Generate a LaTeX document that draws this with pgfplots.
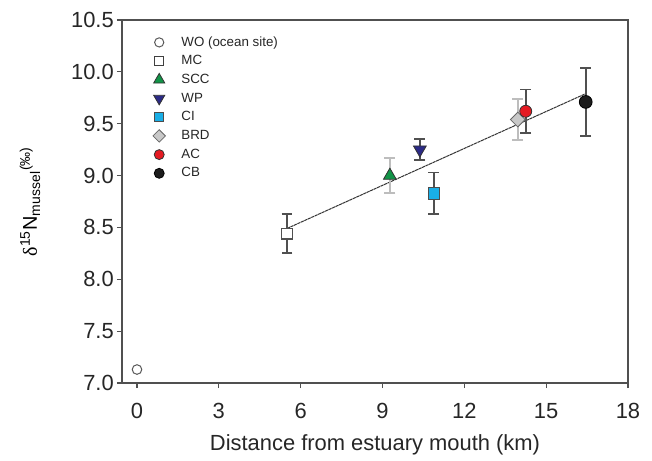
\documentclass[border=0pt]{standalone}
\usepackage{fontspec}
\setmainfont{Liberation Sans}
\newfontfamily\greekserif{Liberation Serif}
\usepackage{pgfplots}
\pgfplotsset{compat=1.18}

\definecolor{axisgray}{HTML}{505050}
\definecolor{barlight}{HTML}{BDBDBD}
\definecolor{sccgreen}{HTML}{119447}
\definecolor{wpnavy}{HTML}{2B2A86}
\definecolor{ciblue}{HTML}{19AEE6}
\definecolor{brdgray}{HTML}{C8C8C8}
\definecolor{acred}{HTML}{E51A22}
\definecolor{cbblack}{HTML}{1C1C1C}

\pgfplotsset{
  % one sampling site: a single mean with a +/- 1 SD bar
  site/.style={
    forget plot, only marks, mark size=3bp,
    /pgfplots/error bars/y dir=both,
    /pgfplots/error bars/y explicit,
    /pgfplots/error bars/error bar style={#1, line width=0.9bp},
    /pgfplots/error bars/error mark options={rotate=90, mark size=2.7bp, #1, line width=0.9bp},
  },
  % legend key: the bare marker, no line stub
  dotkey/.style={legend image code/.code={\draw[##1] plot coordinates {(0bp,0bp)};}},
}

\begin{document}
\begin{tikzpicture}
\path[use as bounding box] (-61bp,-39bp) rectangle (265bp,191.5bp);
\begin{axis}[
  at={(0,0)}, anchor=south west,
  scale only axis,
  width=253bp, height=181.5bp,
  xmin=-0.55, xmax=18, ymin=7, ymax=10.5,
  xtick={0,3,...,18},
  ytick={7,7.5,...,10.5},
  yticklabel style={xshift=2bp, /pgf/number format/.cd, fixed, fixed zerofill, precision=1},
  /pgf/number format/assume math mode=true,
  tick align=outside, tick pos=left,
  major tick length=2.6bp,
  axis line style={axisgray, line width=0.6bp},
  tick style={axisgray, line width=0.6bp},
  ticklabel style={font=\fontsize{11}{13}\selectfont, text=black!85},
  xticklabel style={yshift=-4bp},
  label style={font=\fontsize{11}{13}\selectfont, text=black!85},
  xlabel={Distance from estuary mouth (km)},
  xlabel style={yshift=-1bp},
  ylabel={{\greekserif δ}\textsuperscript{15}N\textsubscript{mussel}\textsuperscript{(‰)}},
  every axis y label/.style={at={(axis description cs:0,0.5)}, xshift=-42.5bp,
    rotate=90, anchor=base},
  legend style={draw=none, fill=none, at={(axis description cs:0,1)}, anchor=north west,
    xshift=15.5bp, yshift=-7.5bp, inner sep=0pt, outer sep=0pt,
    font=\fontsize{6.7}{8}\selectfont, text=black!85, row sep=1.95bp, column sep=7.5bp,
    nodes={inner xsep=0.5bp, inner ysep=0.5bp, text height=5bp, text depth=1.4bp}},
  legend cell align=left,
]
% least-squares fit through the estuary sites
\addplot[forget plot, black!80, line width=0.5bp, dash pattern=on 1.6bp off 0.3bp]
  coordinates {(5.5,8.49) (16.45,9.79)};

% WO, ocean site
\addplot[forget plot, only marks, mark=o, mark size=2.4bp, mark options={draw=black!65, line width=0.5bp}]
  coordinates {(0,7.13)};
% MC
\addplot[site=axisgray, mark=square*, mark size=2.7bp, mark options={draw=axisgray, fill=white, line width=0.6bp}]
  coordinates {(5.5,8.44) +- (0,0.19)};
% SCC
\addplot[site=barlight, mark=triangle*, mark size=3.7bp, mark options={draw=black!80, fill=sccgreen, line width=0.4bp}]
  coordinates {(9.27,9.00) +- (0,0.17)};
% WP
\addplot[site=axisgray, mark=triangle*, mark size=3.7bp, mark options={rotate=180, draw=black!80, fill=wpnavy, line width=0.4bp}]
  coordinates {(10.37,9.25) +- (0,0.10)};
% CI
\addplot[site=axisgray, mark=square*, mark size=2.9bp, mark options={draw=black!70, fill=ciblue, line width=0.4bp}]
  coordinates {(10.88,8.83) +- (0,0.20)};
% BRD
\addplot[site=barlight, mark=square*, mark size=2.6bp, mark options={rotate=45, draw=black!60, fill=brdgray, line width=0.4bp}]
  coordinates {(13.96,9.54) +- (0,0.20)};
% AC
\addplot[site=axisgray, mark=*, mark size=3bp, mark options={draw=black!80, fill=acred, line width=0.4bp}]
  coordinates {(14.25,9.62) +- (0,0.21)};
% CB
\addplot[site=axisgray, mark=*, mark size=3.2bp, mark options={draw=black, fill=cbblack, line width=0.4bp}]
  coordinates {(16.45,9.71) +- (0,0.33)};

% legend keys
\addlegendimage{dotkey, only marks, mark=o, mark size=2.3bp, mark options={draw=black!65, line width=0.5bp}}
\addlegendimage{dotkey, only marks, mark=square*, mark size=2.3bp, mark options={draw=black!75, fill=white, line width=0.5bp}}
\addlegendimage{dotkey, only marks, mark=triangle*, mark size=3.2bp, mark options={draw=black!80, fill=sccgreen, line width=0.4bp}}
\addlegendimage{dotkey, only marks, mark=triangle*, mark size=3.2bp, mark options={rotate=180, draw=black!80, fill=wpnavy, line width=0.4bp}}
\addlegendimage{dotkey, only marks, mark=square*, mark size=2.3bp, mark options={draw=black!70, fill=ciblue, line width=0.4bp}}
\addlegendimage{dotkey, only marks, mark=square*, mark size=2.2bp, mark options={rotate=45, draw=black!60, fill=brdgray, line width=0.4bp}}
\addlegendimage{dotkey, only marks, mark=*, mark size=2.5bp, mark options={draw=black!80, fill=acred, line width=0.4bp}}
\addlegendimage{dotkey, only marks, mark=*, mark size=2.5bp, mark options={draw=black, fill=cbblack, line width=0.4bp}}
\legend{WO (ocean site), MC, SCC, WP, CI, BRD, AC, CB}
\end{axis}
\end{tikzpicture}
\end{document}
